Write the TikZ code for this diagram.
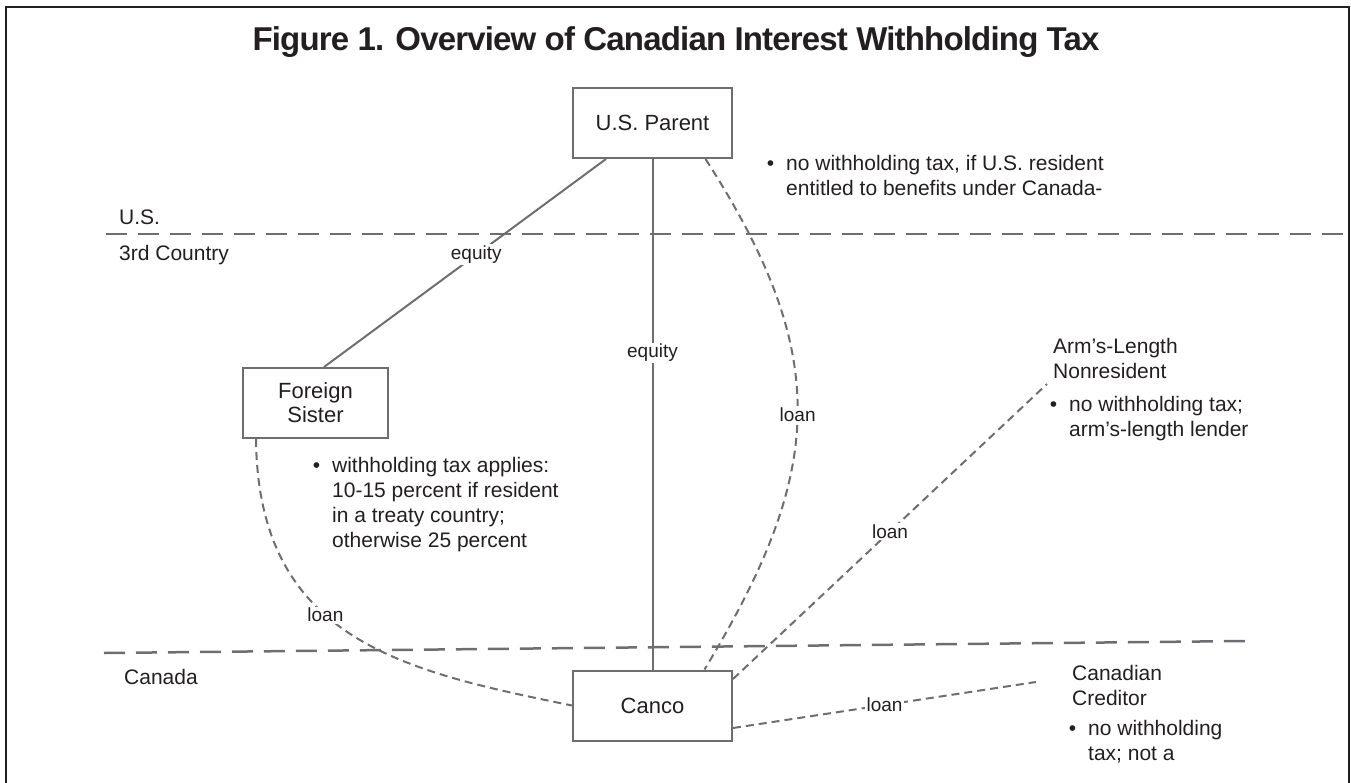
\documentclass[tikz,border=0pt]{standalone}
\usepackage{fontspec}
\setmainfont{Liberation Sans}
\newfontfamily\titlefont[LetterSpace=-2.5]{Liberation Sans}
\definecolor{inkgrey}{RGB}{109,110,113}
\definecolor{inktext}{RGB}{35,31,32}
\newcommand{\notelines}[1]{\begin{tabular}[t]{@{}l@{}}#1\end{tabular}}
\newcommand{\bulletnote}[1]{\textbullet\hskip12pt\notelines{#1}}

\begin{document}
\begin{tikzpicture}[x=1pt,y=-1pt,
    every node/.style={text=inktext},
    entity/.style={draw=inkgrey,line width=2pt,fill=white,minimum width=159pt,minimum height=70pt,inner sep=0pt,align=center,font=\fontsize{22}{24}\selectfont},
    link/.style={draw=inkgrey,line width=2pt},
    loanlink/.style={link,dash pattern=on 8pt off 5pt},
    border/.style={draw=inkgrey,line width=2.5pt,dash pattern=on 21pt off 11pt},
    linklabel/.style={fill=white,inner sep=1.5pt,font=\fontsize{19}{22}\selectfont},
    note/.style={anchor=base west,inner sep=0pt,font=\fontsize{21}{25}\selectfont}]
    \useasboundingbox (0,0) rectangle (1351,783);
    %Frame
    \draw [color=inktext,line width=2pt] (6,783) -- (6,7) -- (1349,7) -- (1349,783);
    %Title
    \node [anchor=base,inner sep=0pt,font=\titlefont\fontsize{33}{38}\selectfont\bfseries] (title) at (676,51) {Figure 1. Overview of Canadian Interest Withholding Tax};
    %Straight Lines: country borders
    \draw [border] (106,234) -- (1349,234);
    \draw [border] (104,653) -- (1247,641);
    \node [note] (uslbl) at (119,225) {U.S.};
    \node [note] (thirdlbl) at (119,261) {3rd Country};
    \node [note] (canadalbl) at (124,684) {Canada};
    %Shape: Rectangle
    \node [entity] (parent) at (652.5,123) {U.S. Parent};
    \node [entity,minimum width=145pt] (sister) at (315.5,403) {Foreign\\Sister};
    \node [entity] (canco) at (652.5,705.5) {Canco};
    \coordinate (armend) at (1047,384);
    \coordinate (credend) at (1036,682);
    %Straight Lines: equity
    \draw [link] ([xshift=-46.5pt]parent.south) -- node [linklabel,pos=0.46] {equity} ([xshift=8.5pt]sister.north);
    \draw [link] (parent) -- node [linklabel,pos=0.38] {equity} (canco);
    %Curve Lines: loans
    \draw [loanlink] ([xshift=53pt]parent.south) .. controls (833,357) and (824,472) .. node [linklabel,pos=0.5] {loan} ([xshift=52pt]canco.north);
    \draw [loanlink] ([xshift=-59.5pt]sister.south) .. controls (258,640) and (403,671) .. node [linklabel,pos=0.42] {loan} (canco.west);
    \draw [loanlink] ([yshift=26.5pt]canco.east) -- node [linklabel] {loan} (armend);
    \draw [loanlink] ([yshift=-22.5pt]canco.east) -- node [linklabel] {loan} (credend);
    %Notes
    \node [note] (parentnote) at (766.6,171) {\bulletnote{no withholding tax, if U.S. resident\\entitled to benefits under Canada-}};
    \node [note] (sisternote) at (312.6,472) {\bulletnote{withholding tax applies:\\10-15 percent if resident\\in a treaty country;\\otherwise 25 percent}};
    \node [note] (armlbl) at (1053,353) {\notelines{Arm’s-Length\\Nonresident}};
    \node [note] (armnote) at (1049.6,411) {\bulletnote{no withholding tax;\\arm’s-length lender}};
    \node [note] (credlbl) at (1072,680) {\notelines{Canadian\\Creditor}};
    \node [note] (crednote) at (1068.6,735) {\bulletnote{no withholding\\tax; not a}};
\end{tikzpicture}
\end{document}
